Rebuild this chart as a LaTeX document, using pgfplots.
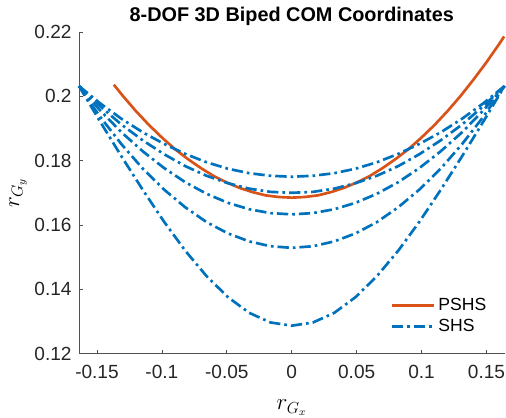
\documentclass[border=0pt]{standalone}
\usepackage{pgfplots}
\pgfplotsset{compat=1.18}
\usepackage{fontspec}
\setmainfont{Liberation Sans}
\definecolor{mblue}{rgb}{0,0.447,0.741}
\definecolor{morange}{rgb}{0.85,0.325,0.098}
\definecolor{axgray}{rgb}{0.15,0.15,0.15}
\begin{document}
\begin{tikzpicture}
\begin{axis}[
    scale only axis,
    width=319.5pt, height=241.5pt,
    xmin=-0.1639, xmax=0.1639,
    ymin=0.12, ymax=0.22,
    axis x line=bottom,
    axis y line=left,
    axis line style={-, draw=axgray!80, line width=0.5pt},
    tick align=inside,
    major tick length=3pt,
    tick style={draw=axgray!80, line width=0.5pt},
    xtick={-0.15,-0.1,-0.05,0,0.05,0.1,0.15},
    xticklabels={-0.15,-0.1,-0.05,0,0.05,0.1,0.15},
    ytick={0.12,0.14,0.16,0.18,0.2,0.22},
    yticklabels={0.12,0.14,0.16,0.18,0.2,0.22},
    ticklabel style={font=\fontsize{14.3}{16}\selectfont, text=axgray},
    xticklabel style={yshift=-5pt},
    yticklabel style={xshift=-2pt},
    title={8-DOF 3D Biped COM Coordinates},
    title style={font=\bfseries\fontsize{14.9}{17}\selectfont, at={(axis description cs:0.5,1.05)}, anchor=center, yshift=-6pt},
    xlabel={$r_{G_x}$},
    ylabel={$r_{G_y}$},
    xlabel style={font=\fontsize{17}{20}\selectfont, at={(axis description cs:0.5,-0.168)}, anchor=center},
    ylabel style={font=\fontsize{17}{20}\selectfont, at={(axis description cs:-0.143,0.5)}, anchor=center},
    clip=false,
    legend style={draw=none, fill=none, at={(0.967,0.05)}, anchor=south east,
        font=\fontsize{13.2}{15}\selectfont, row sep=1pt, inner sep=1pt},
    legend cell align=left,
    legend image code/.code={\draw[#1] (0pt,0pt) -- (32pt,0pt);},
    shs/.style={mblue, line width=2pt, dash pattern=on 8.5pt off 3pt on 2pt off 3pt},
]
% PSHS
\addplot[morange, line width=2pt] coordinates {
    (-0.137,0.2036) (-0.13,0.2001) (-0.12,0.1954) (-0.11,0.1911) (-0.10,0.1872)
    (-0.09,0.1836) (-0.08,0.1805) (-0.07,0.1777) (-0.06,0.1752) (-0.05,0.1732)
    (-0.04,0.1715) (-0.03,0.1702) (-0.02,0.1692) (-0.01,0.1687) (0,0.1685)
    (0.01,0.1687) (0.02,0.1692) (0.03,0.1702) (0.04,0.1715) (0.05,0.1732)
    (0.06,0.1752) (0.07,0.1777) (0.08,0.1805) (0.09,0.1836) (0.10,0.1872)
    (0.11,0.1911) (0.12,0.1954) (0.13,0.2001) (0.14,0.2052) (0.15,0.2106)
    (0.16,0.2164) (0.1636,0.2186)
};
\addlegendentry{PSHS}
% SHS, five curves
\addplot[shs] coordinates {
    (-0.1639,0.2032) (-0.1475,0.1978) (-0.1311,0.1930) (-0.1147,0.1888) (-0.0983,0.1852)
    (-0.0820,0.1821) (-0.0656,0.1795) (-0.0492,0.1775) (-0.0328,0.1761) (-0.0164,0.1753)
    (0,0.1750) (0.0164,0.1753) (0.0328,0.1761) (0.0492,0.1775) (0.0656,0.1795)
    (0.0820,0.1821) (0.0983,0.1852) (0.1147,0.1888) (0.1311,0.1930) (0.1475,0.1978) (0.1639,0.2032)
};
\addlegendentry{SHS}
\addplot[shs, forget plot] coordinates {
    (-0.1639,0.2032) (-0.1475,0.1969) (-0.1311,0.1912) (-0.1147,0.1863) (-0.0983,0.1820)
    (-0.0820,0.1783) (-0.0656,0.1753) (-0.0492,0.1730) (-0.0328,0.1713) (-0.0164,0.1703)
    (0,0.1700) (0.0164,0.1703) (0.0328,0.1713) (0.0492,0.1730) (0.0656,0.1753)
    (0.0820,0.1783) (0.0983,0.1820) (0.1147,0.1863) (0.1311,0.1912) (0.1475,0.1969) (0.1639,0.2032)
};
\addplot[shs, forget plot] coordinates {
    (-0.1639,0.2032) (-0.1475,0.1956) (-0.1311,0.1888) (-0.1147,0.1829) (-0.0983,0.1777)
    (-0.0820,0.1733) (-0.0656,0.1697) (-0.0492,0.1669) (-0.0328,0.1649) (-0.0164,0.1637)
    (0,0.1633) (0.0164,0.1637) (0.0328,0.1649) (0.0492,0.1669) (0.0656,0.1697)
    (0.0820,0.1733) (0.0983,0.1777) (0.1147,0.1829) (0.1311,0.1888) (0.1475,0.1956) (0.1639,0.2032)
};
\addplot[shs, forget plot] coordinates {
    (-0.1639,0.2032) (-0.1475,0.1936) (-0.1311,0.1851) (-0.1147,0.1775) (-0.0983,0.1710)
    (-0.0820,0.1655) (-0.0656,0.1609) (-0.0492,0.1574) (-0.0328,0.1549) (-0.0164,0.1534)
    (0,0.1529) (0.0164,0.1534) (0.0328,0.1549) (0.0492,0.1574) (0.0656,0.1609)
    (0.0820,0.1655) (0.0983,0.1710) (0.1147,0.1775) (0.1311,0.1851) (0.1475,0.1936) (0.1639,0.2032)
};
\addplot[shs, forget plot] coordinates {
    (-0.1639,0.2032) (-0.1475,0.1921) (-0.1311,0.1813) (-0.1147,0.1709) (-0.0983,0.1610)
    (-0.0820,0.1520) (-0.0656,0.1441) (-0.0492,0.1376) (-0.0328,0.1327) (-0.0164,0.1297)
    (0,0.1287) (0.0164,0.1297) (0.0328,0.1327) (0.0492,0.1376) (0.0656,0.1441)
    (0.0820,0.1520) (0.0983,0.1610) (0.1147,0.1709) (0.1311,0.1813) (0.1475,0.1921) (0.1639,0.2032)
};
\end{axis}
\pgfresetboundingbox
\path ([xshift=-59.25pt,yshift=-48pt]current axis.south west) rectangle ([xshift=1.1pt,yshift=24pt]current axis.north east);
\end{tikzpicture}
\end{document}
